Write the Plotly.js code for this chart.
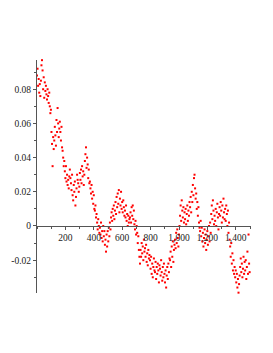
<!DOCTYPE html>
<html><head><meta charset="utf-8">
<script src="https://cdn.plot.ly/plotly-3.0.1.min.js"></script>
<style>html,body{margin:0;padding:0;background:#fff}#chart{width:273px;height:353px}</style>
</head><body><div id="chart"></div>
<script>
// sample spacing along the x axis (index units)
const sampleStep = 3.92;
// series values (in order)
const seriesValues = [
0.088,0.092,0.082,0.086,0.078,
0.083,0.076,0.085,0.094,0.097,0.091,0.080,0.087,0.075,
0.084,0.079,0.082,0.077,0.074,0.080,0.076,0.072,0.078,
0.070,0.066,0.068,0.055,0.048,0.035,0.052,0.045,0.050,
0.058,0.053,0.047,0.062,0.055,0.069,0.060,0.052,0.057,
0.061,0.055,0.050,0.058,0.046,0.044,0.040,0.035,0.038,
0.032,0.028,0.035,0.026,0.030,0.024,0.027,0.022,0.029,
0.033,0.028,0.025,0.021,0.030,0.018,0.015,0.024,0.020,
0.026,0.012,0.017,0.022,0.030,0.027,0.025,0.020,0.023,
0.031,0.027,0.033,0.025,0.035,0.029,0.032,0.024,0.030,
0.038,0.042,0.046,0.034,0.040,0.036,0.028,0.033,0.025,
0.026,0.022,0.019,0.024,0.016,0.020,0.013,0.018,0.010,
0.009,0.012,0.005,0.007,0.002,-0.002,0.004,0.000,-0.004,
-0.001,-0.005,0.002,-0.007,-0.003,-0.009,0.000,-0.006,-0.003,
-0.011,-0.008,-0.015,-0.005,-0.012,-0.003,-0.009,-0.001,-0.006,
0.002,-0.002,0.005,0.008,0.003,0.010,0.006,0.012,0.004,
0.009,0.014,0.007,0.017,0.011,0.019,0.013,0.021,0.008,
0.016,0.012,0.020,0.010,0.014,0.008,0.015,0.011,0.006,
0.009,0.005,0.012,0.003,0.007,0.000,0.006,0.002,0.004,
0.005,0.008,0.002,0.011,0.006,0.012,0.004,0.009,0.001,
-0.002,0.003,-0.005,0.000,-0.004,-0.010,-0.006,-0.014,-0.018,
-0.022,-0.014,-0.018,-0.010,-0.016,-0.012,-0.020,-0.008,-0.015,
-0.013,-0.018,-0.011,-0.021,-0.016,-0.023,-0.014,-0.019,-0.017,
-0.020,-0.025,-0.018,-0.028,-0.022,-0.030,-0.024,-0.019,-0.026,
-0.027,-0.021,-0.031,-0.024,-0.028,-0.022,-0.026,-0.033,-0.023,
-0.025,-0.029,-0.020,-0.027,-0.032,-0.024,-0.030,-0.022,-0.028,
-0.033,-0.026,-0.036,-0.029,-0.024,-0.031,-0.022,-0.027,-0.019,
-0.020,-0.015,-0.024,-0.012,-0.018,-0.009,-0.021,-0.014,-0.011,
-0.008,-0.013,-0.004,-0.010,-0.002,-0.007,-0.012,-0.005,0.000,
0.006,0.012,0.003,0.015,0.009,0.005,0.011,0.002,0.008,
0.004,0.010,0.001,0.007,0.012,0.003,0.009,0.006,0.014,
0.011,0.017,0.008,0.020,0.014,0.024,0.018,0.028,0.030,
0.022,0.016,0.019,0.010,0.014,0.006,0.011,0.002,-0.001,
-0.003,0.003,-0.006,-0.001,-0.009,-0.004,-0.012,-0.007,-0.002,
-0.010,-0.005,-0.014,-0.008,-0.003,-0.011,-0.006,0.000,-0.009,
0.002,-0.004,0.007,0.012,0.004,0.015,0.009,0.001,0.006,
0.003,0.010,0.000,0.008,0.013,0.005,-0.002,0.007,0.011,
0.006,0.014,0.009,0.002,0.012,0.005,0.016,0.008,0.004,
0.010,0.003,0.012,0.007,0.000,0.009,-0.004,0.002,-0.008,
-0.012,-0.018,-0.010,-0.022,-0.016,-0.026,-0.020,-0.028,-0.024,
-0.030,-0.026,-0.033,-0.028,-0.036,-0.031,-0.039,-0.034,-0.029,
-0.024,-0.019,-0.027,-0.022,-0.030,-0.025,-0.018,-0.028,-0.021,
-0.026,-0.020,-0.031,-0.024,-0.015,-0.028,-0.005,-0.022,-0.027
];
const sampleIndex = seriesValues.map((v, i) => i * sampleStep);

// axes
const xRange = [0, 1507];
const yRange = [-0.0392, 0.0971];
const xTickVals = [200, 400, 600, 800, 1000, 1200, 1400];
const xTickText = ["200", "400", "600", "800", "1,000", "1,200", "1,400"];
const yTickVals = [-0.02, 0, 0.02, 0.04, 0.06, 0.08];
const yTickText = ["-0.02", "0", "0.02", "0.04", "0.06", "0.08"];

const axisColor = "#555";
const fontSpec = {family: "Liberation Serif, Times New Roman, serif", size: 9.5, color: "#222"};

const trace = {
  x: sampleIndex, y: seriesValues, type: "scatter", mode: "markers",
  marker: {color: "#ff0000", size: 2, symbol: "square", line: {width: 0}},
  hoverinfo: "skip", cliponaxis: false
};

const layout = {
  width: 273, height: 353,
  margin: {l: 37, r: 22, t: 60, b: 60},
  paper_bgcolor: "#fff", plot_bgcolor: "#fff",
  showlegend: false,
  font: fontSpec,
  xaxis: {
    range: xRange, anchor: "free", position: (0 - yRange[0]) / (yRange[1] - yRange[0]),
    showline: true, linecolor: axisColor, linewidth: 1,
    showgrid: false, zeroline: false,
    tickmode: "array", tickvals: xTickVals, ticktext: xTickText,
    ticks: "outside", ticklen: 3, tickcolor: axisColor, tickfont: fontSpec,
    minor: {tickmode: "linear", tick0: 0, dtick: 100, ticks: "outside", ticklen: 2, tickcolor: axisColor}
  },
  yaxis: {
    range: yRange, showline: true, linecolor: axisColor, linewidth: 1,
    showgrid: false, zeroline: false,
    tickmode: "array", tickvals: yTickVals, ticktext: yTickText,
    ticks: "outside", ticklen: 3, tickcolor: axisColor, tickfont: fontSpec,
    minor: {tickmode: "linear", tick0: 0, dtick: 0.01, ticks: "outside", ticklen: 2, tickcolor: axisColor}
  }
};

Plotly.newPlot("chart", [trace], layout, {staticPlot: true, displayModeBar: false});
</script>
</body></html>
